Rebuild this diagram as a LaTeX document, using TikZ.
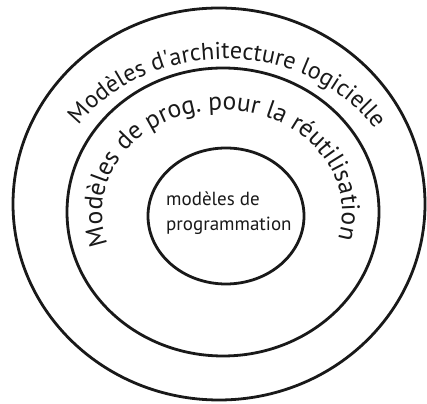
\documentclass[tikz,border=0pt]{standalone}
\usepackage{fontspec}
\setmainfont{PT Sans}
\newfontfamily\ringfont{PT Sans}
\usetikzlibrary{decorations.text}
\tikzset{
  ring/.style={draw=black!90, line width=2.8pt},
  ringtext/.style={decorate, decoration={text along path, text align=center, text color=black!90}}
}
\begin{document}
\begin{tikzpicture}[x=1pt,y=1pt]
\useasboundingbox (0,0) rectangle (427,403);
\coordinate (c1) at (219,199);
\coordinate (c2) at (223,191);
\coordinate (c3) at (226,187);
\draw[ring] (c1) ellipse[x radius=206, y radius=196];
\draw[ring] (c2) ellipse[x radius=156, y radius=144];
\draw[ring] (c3) ellipse[x radius=78, y radius=68];
\coordinate (t1) at (225,191);
\coordinate (t2) at (222,191);
\path[ringtext, decoration={text={|\fontsize{24.2}{29}\ringfont|Modèles d'architecture logicielle}}]
  (t1) ++(179:178 and 153) arc[start angle=179, end angle=-1, x radius=178, y radius=153];
\path[ringtext, decoration={text={|\fontsize{25.5}{30}\ringfont|Modèles de prog. pour la réutilisation}}]
  (t2) ++(211.5:120 and 102) arc[start angle=211.5, end angle=-28.5, x radius=120, y radius=102];
\node[anchor=base west, inner sep=0pt, font=\fontsize{19}{22}\selectfont, text=black!90] (l1) at (166,197) {modèles de};
\node[anchor=base west, inner sep=0pt, font=\fontsize{19}{22}\selectfont, text=black!90] (l2) at (166,172) {programmation};
\end{tikzpicture}
\end{document}
